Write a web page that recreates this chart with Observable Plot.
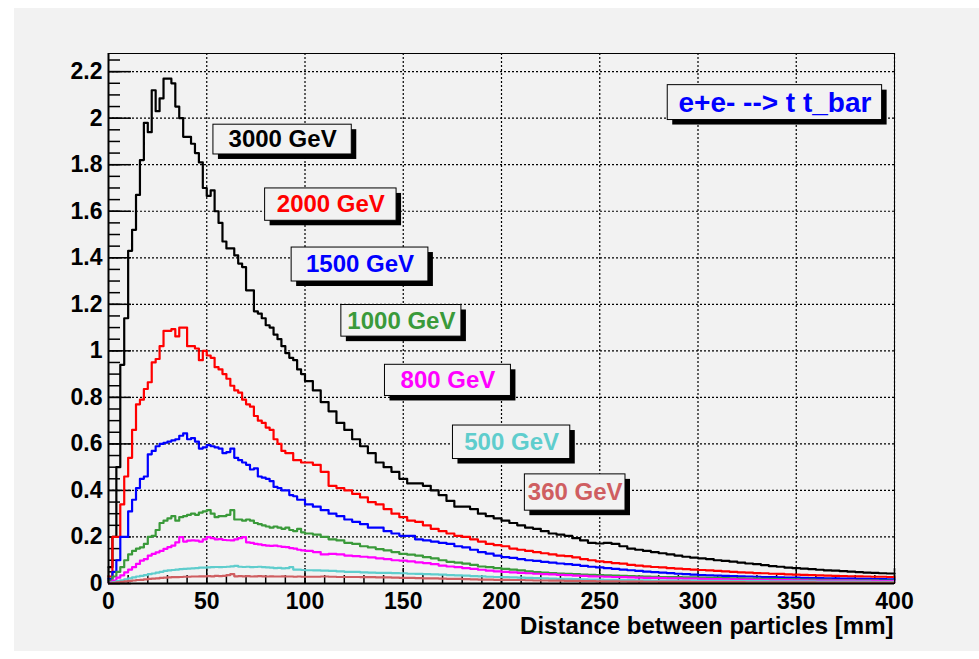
<!DOCTYPE html>
<html>
<head>
<meta charset="utf-8">
<script src="https://cdn.jsdelivr.net/npm/d3@7"></script>
<script src="https://cdn.jsdelivr.net/npm/@observablehq/plot@0.6"></script>
<style>
  html, body { margin: 0; padding: 0; background: #ffffff; }
  #chart { width: 979px; height: 659px; }
</style>
</head>
<body>
<div id="chart"></div>
<script>
// ---------- data ----------
const series = ["3000 GeV", "2000 GeV", "1500 GeV", "1000 GeV", "800 GeV", "500 GeV", "360 GeV"];
const seriesColors = ["#000000", "#ff0000", "#0000ff", "#3a9a3a", "#ff00ff", "#5fcdcd", "#cf5e61"];

// bin layout: 2 mm bins from 0 to 100 mm, then 4 mm bins to 400 mm
const binLeft = d3.range(0, 100, 2).concat(d3.range(100, 400, 4));

const h3000 = [
  0.07,0.20,0.50,0.94,1.14,1.43,1.52,1.67,1.82,1.98,
  1.94,2.12,2.03,2.085,2.17,2.17,2.15,2.05,2.00,1.92,
  1.92,1.89,1.85,1.81,1.70,1.666,1.69,1.60,1.55,1.47,
  1.44,1.44,1.41,1.375,1.36,1.26,1.26,1.17,1.16,1.14,
  1.11,1.10,1.07,1.05,1.02,0.99,0.97,0.96,0.92,0.90,
  0.87,0.83,0.78,0.74,0.69,0.66,0.62,0.59,0.56,0.52,
  0.50,0.48,0.45,0.43,0.43,0.42,0.40,0.38,0.355,0.33,
  0.33,0.32,0.30,0.29,0.28,0.27,0.26,0.25,0.24,0.235,
  0.225,0.215,0.21,0.205,0.195,0.185,0.175,0.172,0.175,0.17,
  0.16,0.15,0.145,0.14,0.135,0.13,0.125,0.12,0.115,0.111,
  0.108,0.105,0.10,0.097,0.094,0.09,0.086,0.083,0.079,0.075,
  0.072,0.068,0.066,0.064,0.062,0.059,0.056,0.055,0.053,0.051,
  0.049,0.047,0.046,0.044,0.043
];
const h2000 = [
  0.03,0.20,0.20,0.34,0.46,0.54,0.66,0.77,0.79,0.836,
  0.865,0.95,0.965,1.02,1.086,1.086,1.093,1.062,1.10,1.10,
  1.02,1.02,1.01,0.96,1.00,0.98,0.97,0.93,0.92,0.90,
  0.88,0.85,0.83,0.82,0.79,0.77,0.76,0.72,0.70,0.69,
  0.67,0.66,0.62,0.60,0.57,0.56,0.56,0.53,0.53,0.52,
  0.52,0.51,0.48,0.42,0.41,0.40,0.385,0.37,0.35,0.34,
  0.32,0.30,0.285,0.27,0.265,0.25,0.235,0.225,0.215,0.205,
  0.20,0.19,0.18,0.17,0.165,0.16,0.15,0.145,0.14,0.135,
  0.13,0.125,0.12,0.118,0.112,0.105,0.10,0.095,0.092,0.088,
  0.085,0.08,0.077,0.074,0.071,0.069,0.066,0.064,0.062,0.06,
  0.058,0.056,0.054,0.052,0.05,0.048,0.047,0.045,0.044,0.042,
  0.041,0.039,0.038,0.037,0.036,0.035,0.034,0.033,0.032,0.031,
  0.031,0.030,0.029,0.029,0.028
];
const h1500 = [
  0.02,0.05,0.10,0.20,0.20,0.31,0.36,0.41,0.45,0.46,
  0.555,0.57,0.59,0.60,0.605,0.61,0.615,0.62,0.635,0.645,
  0.62,0.625,0.61,0.58,0.585,0.595,0.59,0.585,0.58,0.56,
  0.565,0.58,0.54,0.53,0.52,0.51,0.49,0.495,0.46,0.455,
  0.45,0.44,0.415,0.41,0.40,0.40,0.38,0.375,0.36,0.36,
  0.34,0.33,0.315,0.30,0.29,0.275,0.265,0.255,0.24,0.24,
  0.225,0.215,0.205,0.205,0.19,0.185,0.18,0.175,0.17,0.16,
  0.155,0.145,0.135,0.128,0.12,0.113,0.11,0.105,0.10,0.097,
  0.093,0.09,0.086,0.083,0.08,0.076,0.072,0.069,0.066,0.063,
  0.06,0.057,0.054,0.051,0.049,0.047,0.045,0.042,0.04,0.038,
  0.036,0.035,0.034,0.033,0.032,0.031,0.030,0.029,0.028,0.027,
  0.026,0.025,0.025,0.024,0.023,0.023,0.022,0.022,0.021,0.021,
  0.020,0.020,0.019,0.019,0.018
];
const h1000 = [
  0.012,0.03,0.05,0.07,0.10,0.125,0.14,0.15,0.155,0.17,
  0.20,0.205,0.23,0.26,0.27,0.28,0.29,0.27,0.285,0.29,
  0.295,0.30,0.295,0.305,0.31,0.315,0.30,0.285,0.29,0.29,
  0.295,0.315,0.275,0.275,0.27,0.275,0.27,0.26,0.255,0.25,
  0.245,0.24,0.245,0.24,0.235,0.24,0.23,0.225,0.235,0.22,
  0.215,0.21,0.20,0.19,0.185,0.175,0.17,0.16,0.155,0.148,
  0.142,0.135,0.127,0.124,0.12,0.113,0.108,0.10,0.093,0.09,
  0.085,0.08,0.073,0.07,0.066,0.063,0.06,0.056,0.052,0.049,
  0.047,0.045,0.043,0.042,0.04,0.038,0.037,0.036,0.035,0.034,
  0.033,0.032,0.031,0.03,0.029,0.028,0.028,0.027,0.026,0.026,
  0.025,0.024,0.024,0.023,0.022,0.022,0.021,0.021,0.02,0.02,
  0.019,0.018,0.018,0.017,0.017,0.016,0.016,0.015,0.015,0.015,
  0.014,0.014,0.014,0.013,0.013
];
const h800 = [
  0.005,0.012,0.025,0.035,0.048,0.06,0.07,0.084,0.098,0.105,
  0.12,0.127,0.134,0.14,0.149,0.156,0.163,0.177,0.199,0.18,
  0.184,0.185,0.184,0.18,0.19,0.199,0.195,0.19,0.191,0.187,
  0.186,0.185,0.19,0.195,0.199,0.177,0.175,0.17,0.168,0.165,
  0.163,0.162,0.163,0.16,0.157,0.156,0.152,0.15,0.145,0.142,
  0.14,0.135,0.125,0.127,0.125,0.12,0.118,0.115,0.112,0.108,
  0.105,0.10,0.098,0.095,0.091,0.088,0.083,0.077,0.073,0.07,
  0.066,0.063,0.059,0.055,0.052,0.05,0.048,0.046,0.044,0.042,
  0.04,0.039,0.037,0.036,0.034,0.033,0.031,0.03,0.029,0.028,
  0.027,0.026,0.025,0.024,0.024,0.023,0.022,0.022,0.021,0.021,
  0.02,0.019,0.019,0.018,0.018,0.017,0.017,0.016,0.016,0.015,
  0.015,0.015,0.014,0.014,0.013,0.013,0.013,0.012,0.012,0.012,
  0.011,0.011,0.011,0.01,0.01
];
const h500 = [
  0.003,0.006,0.01,0.014,0.018,0.022,0.026,0.03,0.033,0.036,
  0.04,0.043,0.047,0.05,0.054,0.056,0.058,0.06,0.062,0.063,
  0.064,0.065,0.066,0.068,0.068,0.069,0.07,0.071,0.07,0.071,
  0.072,0.074,0.076,0.072,0.071,0.072,0.07,0.071,0.072,0.07,
  0.069,0.068,0.066,0.067,0.065,0.066,0.07,0.06,0.06,0.058,
  0.057,0.056,0.055,0.054,0.052,0.05,0.05,0.048,0.047,0.046,
  0.046,0.045,0.044,0.042,0.041,0.04,0.039,0.038,0.036,0.035,
  0.034,0.032,0.031,0.029,0.028,0.027,0.026,0.025,0.024,0.023,
  0.022,0.021,0.02,0.02,0.019,0.018,0.017,0.017,0.016,0.016,
  0.015,0.015,0.014,0.014,0.013,0.013,0.013,0.012,0.012,0.012,
  0.011,0.011,0.011,0.011,0.01,0.01,0.01,0.01,0.01,0.0095,
  0.0095,0.009,0.009,0.009,0.009,0.0085,0.0085,0.0085,0.008,0.008,
  0.008,0.008,0.0075,0.0075,0.0075
];
const h360 = [
  0.001,0.003,0.005,0.007,0.009,0.011,0.013,0.015,0.016,0.018,
  0.02,0.021,0.022,0.024,0.025,0.026,0.027,0.027,0.028,0.029,
  0.029,0.03,0.03,0.031,0.031,0.032,0.031,0.033,0.032,0.033,
  0.036,0.04,0.031,0.032,0.031,0.032,0.03,0.031,0.032,0.031,
  0.03,0.031,0.03,0.03,0.031,0.03,0.03,0.029,0.03,0.029,
  0.029,0.029,0.03,0.029,0.028,0.028,0.028,0.027,0.027,0.026,
  0.026,0.025,0.024,0.024,0.023,0.022,0.022,0.021,0.02,0.02,
  0.019,0.018,0.017,0.017,0.016,0.016,0.015,0.015,0.014,0.013,
  0.013,0.012,0.012,0.011,0.011,0.01,0.01,0.0095,0.009,0.009,
  0.0085,0.008,0.008,0.0075,0.0075,0.007,0.007,0.0068,0.0066,0.0064,
  0.0062,0.006,0.006,0.0058,0.0056,0.0055,0.0054,0.0052,0.0051,0.005,
  0.005,0.0048,0.0047,0.0046,0.0045,0.0044,0.0043,0.0042,0.0041,0.004,
  0.004,0.0039,0.0038,0.0037,0.0036
];
const seriesValues = [h3000, h2000, h1500, h1000, h800, h500, h360];

const yTickValues = [0, 0.2, 0.4, 0.6, 0.8, 1, 1.2, 1.4, 1.6, 1.8, 2, 2.2];
const yTickLabels = ["0", "0.2", "0.4", "0.6", "0.8", "1", "1.2", "1.4", "1.6", "1.8", "2", "2.2"];
const xTickValues = [0, 50, 100, 150, 200, 250, 300, 350, 400];
const xTickLabels = ["0", "50", "100", "150", "200", "250", "300", "350", "400"];
const xTitle = "Distance between particles [mm]";
const plotTitle = "e+e- --> t t_bar";

// ---------- annotation placement (data units) ----------
const labelBoxes = [
  {s: "3000 GeV", x1: 53.4,  x2: 123.8, y1: 1.844, y2: 1.972},
  {s: "2000 GeV", x1: 79.7,  x2: 146.6, y1: 1.559, y2: 1.698},
  {s: "1500 GeV", x1: 93.2,  x2: 162.8, y1: 1.298, y2: 1.444},
  {s: "1000 GeV", x1: 118.5, x2: 179.6, y1: 1.061, y2: 1.197},
  {s: "800 GeV",  x1: 140.7, x2: 204.8, y1: 0.806, y2: 0.940},
  {s: "500 GeV",  x1: 175.3, x2: 235.0, y1: 0.535, y2: 0.679},
  {s: "360 GeV",  x1: 211.9, x2: 263.1, y1: 0.313, y2: 0.469}
];
const titleBox = [{t: plotTitle, x1: 284.6, x2: 393.7, y1: 1.992, y2: 2.142}];

// ---------- build rows ----------
const rows = [];
series.forEach((s, k) => {
  const vals = seriesValues[k];
  vals.forEach((v, i) => rows.push({s, x: binLeft[i], y: v}));
  rows.push({s, x: 400, y: vals[vals.length - 1]});
});

const W = 979, H = 659, mL = 108, mR = 85, mT = 53, mB = 76;
const yMax = 2.278;
const pxX = 400 / (W - mL - mR);
const pxY = yMax / (H - mT - mB);

const yMinor = d3.range(0, 2.26, 0.05);
const xMinor = d3.range(0, 401, 10);
const font = "'Liberation Sans', Arial, Helvetica, sans-serif";

const chart = Plot.plot({
  width: W, height: H,
  marginLeft: mL, marginRight: mR, marginTop: mT, marginBottom: mB,
  x: {domain: [0, 400], axis: null},
  y: {domain: [0, yMax], axis: null},
  color: {domain: series, range: seriesColors},
  style: {background: "transparent", fontFamily: font, fontWeight: "bold", overflow: "visible"},
  marks: [
    // dotted grid
    Plot.ruleY(yTickValues.slice(1), {stroke: "#000", strokeWidth: 1.2, strokeDasharray: "2,2"}),
    Plot.ruleX(xTickValues.slice(1), {stroke: "#000", strokeWidth: 1.2, strokeDasharray: "2,2"}),
    // ticks
    Plot.ruleY(yMinor, {x1: 0, x2: 12 * pxX, stroke: "#000", strokeWidth: 1.5}),
    Plot.ruleY(yTickValues, {x1: 0, x2: 23 * pxX, stroke: "#000", strokeWidth: 1.5}),
    Plot.ruleX(xMinor, {y1: 0, y2: 8 * pxY, stroke: "#000", strokeWidth: 1.5}),
    Plot.ruleX(xTickValues, {y1: 0, y2: 15 * pxY, stroke: "#000", strokeWidth: 1.5}),
    // histograms
    Plot.line(rows, {x: "x", y: "y", z: "s", stroke: "s", curve: "step-after", strokeWidth: 2.2}),
    // frame and axes
    Plot.frame({stroke: "#000", strokeWidth: 1}),
    Plot.ruleX([0], {stroke: "#000", strokeWidth: 2}),
    Plot.ruleY([0], {stroke: "#000", strokeWidth: 2}),
    // label boxes
    Plot.rect(labelBoxes, {x1: "x1", x2: "x2", y1: "y1", y2: "y2", fill: "#000", dx: 5, dy: 5}),
    Plot.rect(labelBoxes, {x1: "x1", x2: "x2", y1: "y1", y2: "y2", fill: "#f2f2f2", stroke: "#000", strokeWidth: 1}),
    Plot.text(labelBoxes, {x: d => (d.x1 + d.x2) / 2, y: d => (d.y1 + d.y2) / 2, text: "s", fill: "s",
      fontSize: 24, fontWeight: "bold"}),
    Plot.rect(titleBox, {x1: "x1", x2: "x2", y1: "y1", y2: "y2", fill: "#000", dx: 5, dy: 5}),
    Plot.rect(titleBox, {x1: "x1", x2: "x2", y1: "y1", y2: "y2", fill: "#f2f2f2", stroke: "#000", strokeWidth: 1}),
    Plot.text(titleBox, {x: d => (d.x1 + d.x2) / 2, y: d => (d.y1 + d.y2) / 2, text: "t", fill: "#0000ff",
      fontSize: 28, fontWeight: "bold"}),
    // tick labels
    Plot.text(yTickValues, {x: 0, y: d => d, text: (d, i) => yTickLabels[i], textAnchor: "end", dx: -6,
      fontSize: 23, fontWeight: "bold", fill: "#000"}),
    Plot.text(xTickValues, {y: 0, x: d => d, text: (d, i) => xTickLabels[i], dy: 18,
      fontSize: 23, fontWeight: "bold", fill: "#000"}),
    // axis title
    Plot.text([xTitle], {frameAnchor: "bottom-right", text: d => d, textAnchor: "end", lineAnchor: "middle",
      dx: -1, dy: 43, fontSize: 24, fontWeight: "bold", fill: "#000"})
  ]
});

// canvas background (ROOT pad grey)
d3.select(chart).insert("rect", ":first-child")
  .attr("x", 14).attr("y", 8).attr("width", W - 14).attr("height", 643)
  .attr("fill", "#f2f2f2");

document.getElementById("chart").appendChild(chart);
</script>
</body>
</html>
